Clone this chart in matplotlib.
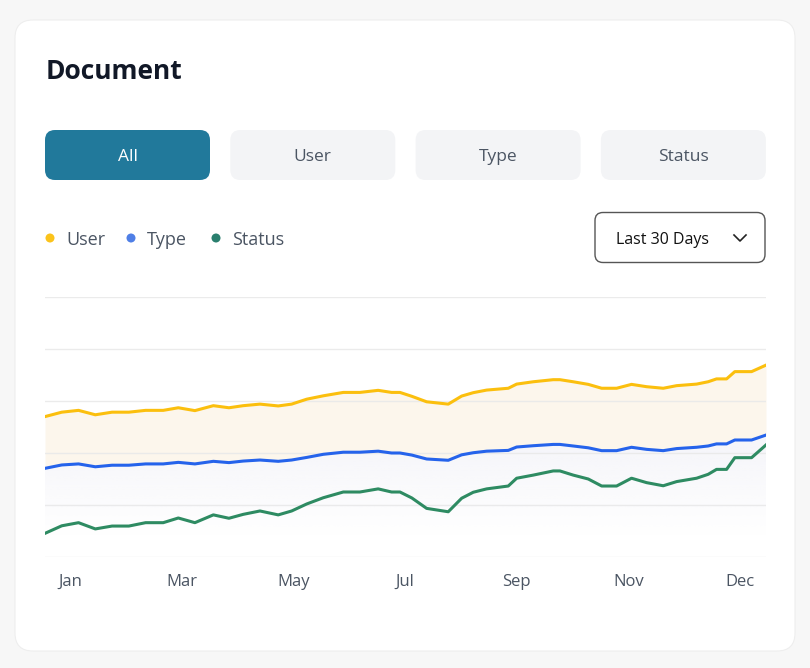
import numpy as np
import matplotlib.pyplot as plt
from matplotlib.patches import FancyBboxPatch, Circle

plt.rcParams['font.family'] = ['Open Sans', 'DejaVu Sans']

# data (x in point-index units, y in grid units 0..100)
x_pos = [0, 1.0, 2.0, 3.0, 4.0, 5.0, 6.0, 7.05, 7.95, 8.94, 10.04, 10.97,
         11.82, 12.82, 13.91, 14.71, 15.61, 16.6, 17.79, 18.78, 19.87, 20.67,
         21.17, 21.88, 22.76, 24.05, 24.85, 25.54, 26.34, 27.63, 28.13, 29.12,
         30.31, 30.71, 31.5, 32.4, 33.2, 34.09, 34.98, 35.88, 36.87, 37.67,
         38.86, 39.55, 40.05, 40.65, 41.14, 42.14, 43.0]
user_vals = [54.0, 55.7, 56.4, 54.7, 55.7, 55.7, 56.4, 56.4, 57.4, 56.3, 58.2, 57.4,
             58.2, 58.8, 58.1, 58.8, 60.7, 62.0, 63.3, 63.3, 64.1, 63.3,
             63.3, 61.8, 59.7, 58.8, 61.9, 63.2, 64.2, 64.9, 66.5, 67.4,
             68.2, 68.2, 67.4, 66.4, 64.9, 64.9, 66.4, 65.5, 64.9, 65.9,
             66.5, 67.4, 68.5, 68.5, 71.3, 71.3, 73.8]
type_vals = [34.1, 35.4, 35.8, 34.7, 35.3, 35.3, 35.8, 35.8, 36.4, 35.8, 36.8, 36.3,
             36.9, 37.3, 36.8, 37.3, 38.3, 39.5, 40.3, 40.3, 40.7, 40.0,
             40.0, 39.2, 37.7, 37.2, 39.3, 40.1, 40.7, 41.0, 42.3, 42.8,
             43.3, 43.3, 42.7, 42.0, 40.9, 40.9, 42.2, 41.4, 40.9, 41.7,
             42.2, 42.7, 43.5, 43.5, 45.0, 45.0, 46.9]
status_vals = [9.1, 12.0, 13.2, 10.8, 11.9, 11.9, 13.2, 13.2, 15.0, 13.2, 16.2, 14.9,
               16.4, 17.7, 16.2, 17.7, 20.4, 22.8, 25.0, 25.0, 26.2, 25.0,
               25.0, 22.7, 18.7, 17.4, 22.6, 24.9, 26.2, 27.3, 30.3, 31.5,
               33.1, 33.1, 31.5, 30.0, 27.3, 27.3, 30.3, 28.6, 27.4, 29.0,
               30.3, 31.8, 33.7, 33.7, 38.2, 38.2, 43.1]
month_labels = ['Jan', 'Mar', 'May', 'Jul', 'Sep', 'Nov', 'Dec']
tabs = ['All', 'User', 'Type', 'Status']
series_names = ['User', 'Type', 'Status']

line_colors = ['#fbbf0e', '#2563eb', '#2e8b62']
dot_colors = ['#fbc31b', '#4f7fe6', '#2a7f6e']
gray_text = '#4b5563'

fig = plt.figure(figsize=(8.1, 6.68), dpi=100)
fig.patch.set_facecolor('#f7f7f7')

# background layer in pixel coords
bg = fig.add_axes([0, 0, 1, 1])
bg.set_xlim(0, 810)
bg.set_ylim(668, 0)
bg.axis('off')

bg.add_patch(FancyBboxPatch((15, 20), 780, 631, boxstyle='round,pad=0,rounding_size=18',
                            fc='white', ec='#eeeeee', lw=0.8))
bg.text(46, 71.5, 'Document', fontsize=19, fontweight='bold', va='center', color='#111827')

# tab buttons
for i, name in enumerate(tabs):
    x0 = 45 + i * 185.3
    active = i == 0
    bg.add_patch(FancyBboxPatch((x0, 130), 165, 50, boxstyle='round,pad=0,rounding_size=10',
                                fc='#21799b' if active else '#f3f4f6', ec='none'))
    bg.text(x0 + 82.5, 157, name, fontsize=12.5, ha='center', va='center',
            color='white' if active else gray_text)

# legend
leg_x = [50, 131, 216]
for lx, name, c in zip(leg_x, series_names, dot_colors):
    bg.add_patch(Circle((lx, 238), 4.5, fc=c, ec='none'))
    bg.text(lx + 16, 240, name, fontsize=13, va='center', color=gray_text)

# dropdown
bg.add_patch(FancyBboxPatch((595, 212.5), 170, 50, boxstyle='round,pad=0,rounding_size=8',
                            fc='white', ec='#555555', lw=1))
bg.text(616, 239.5, 'Last 30 Days', fontsize=11.5, va='center', color='#111111')
bg.plot([734, 740, 746], [235, 241, 235], color='#222222', lw=1.2)

# chart
ax = fig.add_axes([45 / 810, 111 / 668, 721 / 810, 260 / 668])
ax.patch.set_alpha(0)
for s in ax.spines.values():
    s.set_visible(False)
ax.tick_params(axis='y', length=0, labelleft=False)
ax.set_yticks([])
for v in range(0, 101, 20):
    ax.axhline(v, color='#e9e9e9', lw=1, zorder=2, alpha=0.9)
ax.set_xticks(np.linspace(1.49, 41.44, 7))
ax.set_xticklabels(month_labels, fontsize=12, color=gray_text)
ax.tick_params(axis='x', length=0, pad=12)

ax.fill_between(x_pos, user_vals, type_vals, color='#fcf6ec', lw=0, zorder=1)

# soft gradient under the Type line
poly = ax.fill_between(x_pos, type_vals, 0, color='none', lw=0)
yy = np.linspace(0, 50, 200)
alpha = np.clip((yy - 8) / 35, 0, 1)
grad = np.zeros((200, 2, 4))
grad[..., :3] = np.array([0xf6, 0xf6, 0xfa]) / 255
grad[..., 3] = alpha[:, None]
im = ax.imshow(grad, extent=[0, 43, 0, 50], origin='lower', aspect='auto', zorder=1)
im.set_clip_path(poly.get_paths()[0], transform=ax.transData)

for vals, c in zip([user_vals, type_vals, status_vals], line_colors):
    ax.plot(x_pos, vals, color=c, lw=2.2, zorder=3, solid_joinstyle='round')

ax.set_xlim(0, 43)
ax.set_ylim(0, 100)

fig.savefig('out.png', dpi=100, facecolor=fig.get_facecolor())
